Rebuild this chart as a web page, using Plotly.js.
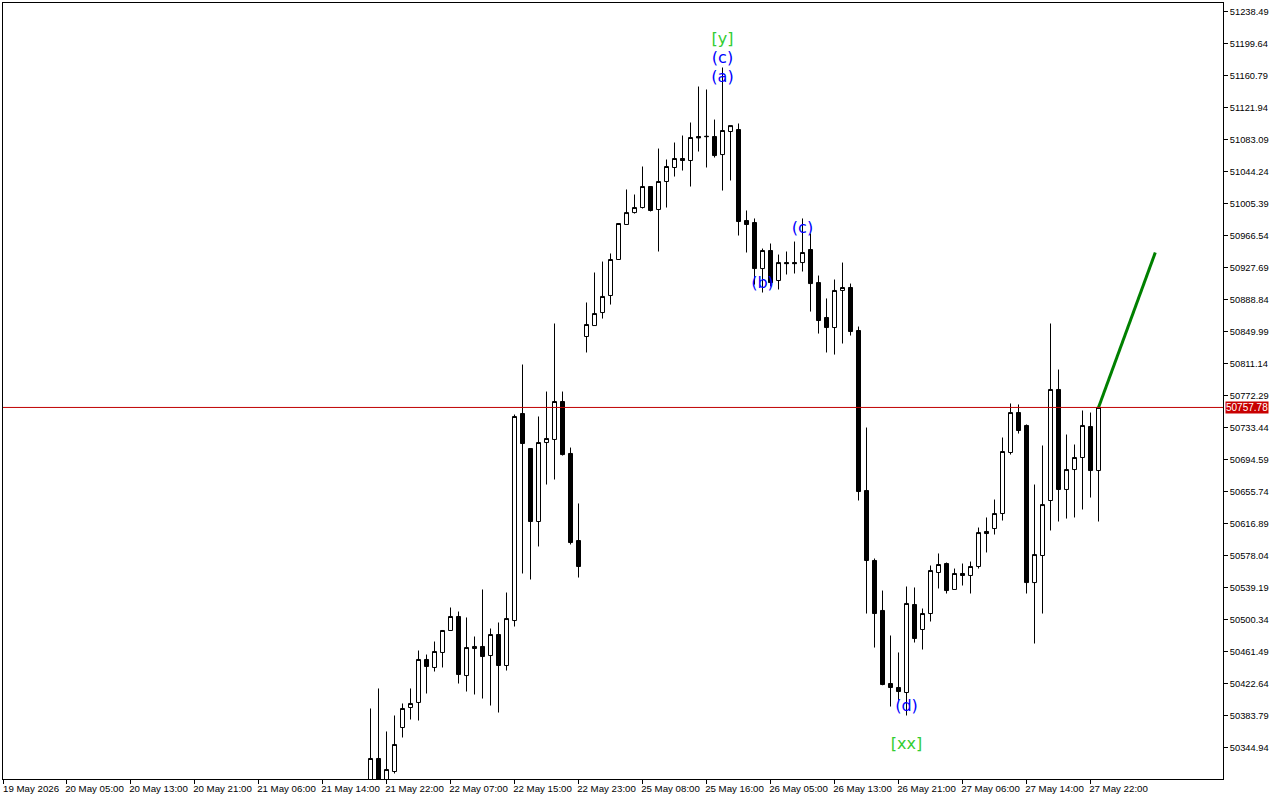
<!DOCTYPE html>
<html><head><meta charset="utf-8">
<style>html,body{margin:0;padding:0;background:#fff;overflow:hidden}#c{width:1280px;height:800px}</style>
<script src="https://cdn.plot.ly/plotly-3.0.1.min.js"></script>
</head><body><div id="c"></div>
<script>
const firstBar = 46;
const opens = [50280.6,50331.6,50292.7,50315.8,50369.2,50393.5,50399.6,50451.8,50442.1,50460.3,50487.0,50504.0,50432.3,50465.1,50467.6,50456.6,50482.1,50444.5,50499.1,50750.4,50707.9,50619.3,50715.2,50718.9,50765.0,50701.9,50596.2,50843.9,50857.2,50873.0,50893.7,50937.4,50979.9,50994.4,51000.5,51026.0,50998.1,51032.1,51049.1,51060.0,51057.6,51086.7,51086.5,51086.7,51064.8,51092.8,51095.2,50984.7,50982.3,50926.4,50948.3,50911.9,50933.7,50933.7,50933.7,50949.5,50909.4,50867.0,50854.8,50899.8,50903.4,50851.2,50656.9,50572.0,50511.3,50422.6,50417.8,50411.7,50518.5,50488.2,50507.6,50557.4,50568.3,50536.8,50556.2,50553.8,50564.7,50607.2,50610.8,50629.0,50703.1,50751.6,50735.9,50545.2,50578.0,50644.8,50779.6,50658.2,50682.4,50697.0,50734.6,50681.2];
const highs = [50392.3,50416.6,50364.4,50383.8,50398.4,50416.6,50462.7,50457.8,50473.6,50487.6,50514.9,50510.0,50502.8,50479.7,50536.8,50489.4,50496.7,50533.1,50749.2,50809.9,50707.9,50746.8,50777.1,50859.7,50777.1,50709.1,50641.2,50885.2,50921.6,50934.9,50944.7,50981.1,51022.4,51016.3,51050.3,51026.0,51072.1,51058.8,51079.4,51087.9,51103.7,51147.4,51143.8,51107.3,51170.5,51100.0,51102.5,50996.9,50987.2,50950.7,50956.8,50943.4,50947.1,50959.2,50987.2,50968.9,50917.9,50890.1,50913.1,50933.7,50908.2,50856.0,50733.4,50574.4,50535.5,50480.9,50460.3,50540.4,50539.2,50513.7,50565.9,50580.5,50569.5,50562.2,50568.3,50570.7,50612.0,50624.2,50646.0,50721.3,50762.6,50761.4,50737.1,50664.2,50711.6,50859.7,50803.8,50724.9,50712.8,50754.1,50751.6,50757.78];
const lows = [50262.4,50280.6,50280.6,50313.4,50357.1,50378.9,50377.7,50410.5,50437.2,50442.1,50487.0,50422.6,50412.9,50409.3,50404.4,50395.9,50387.4,50438.4,50491.8,50556.2,50548.9,50589.0,50664.2,50670.3,50699.4,50591.4,50551.3,50824.5,50857.2,50865.7,50882.7,50937.4,50979.9,50993.2,50999.3,50995.7,50947.1,51000.5,51038.1,51045.4,51026.0,51068.5,51049.1,51061.2,51021.1,51033.3,50966.5,50945.9,50907.0,50897.3,50904.6,50901.0,50919.2,50920.4,50922.8,50874.2,50847.5,50824.5,50822.0,50835.4,50845.1,50644.8,50507.6,50466.3,50420.5,50394.7,50402.0,50383.8,50472.4,50463.9,50497.9,50538.0,50531.9,50536.8,50541.6,50531.9,50562.2,50581.7,50603.5,50620.5,50700.6,50726.1,50531.9,50471.2,50507.6,50608.4,50619.3,50622.9,50624.2,50633.9,50648.4,50619.3];
const closes = [50331.6,50298.8,50318.2,50348.6,50392.3,50398.4,50451.8,50443.3,50461.5,50487.0,50504.0,50433.6,50466.3,50467.6,50455.4,50482.1,50444.5,50501.5,50746.8,50714.0,50619.3,50715.2,50720.1,50765.0,50700.6,50593.8,50564.7,50858.5,50871.8,50892.5,50937.4,50981.1,50994.4,51000.5,51026.0,50996.9,51032.1,51050.3,51060.0,51057.6,51085.5,51085.0,51086.9,51063.6,51094.0,51100.0,50983.5,50979.9,50926.4,50948.3,50909.4,50933.7,50932.4,50932.4,50945.9,50908.2,50863.3,50854.8,50899.8,50903.4,50850.0,50655.7,50572.0,50507.6,50421.4,50417.8,50412.9,50519.8,50477.3,50507.6,50559.8,50567.1,50535.5,50556.2,50553.8,50564.7,50605.9,50604.7,50629.0,50704.3,50751.6,50729.8,50545.2,50579.2,50639.9,50779.6,50658.2,50682.4,50697.0,50735.9,50681.2,50757.78];
const barIndex = opens.map((_, i) => firstBar + i);

const xTickBars = [0.07,8,16,24,32,40,48,56,64,72,80,88,96,104,112,120,128,136];
const xTickLabels = ["19 May 2026","20 May 05:00","20 May 13:00","20 May 21:00","21 May 06:00","21 May 14:00","21 May 22:00","22 May 07:00","22 May 15:00","22 May 23:00","25 May 08:00","25 May 16:00","26 May 05:00","26 May 13:00","26 May 21:00","27 May 06:00","27 May 14:00","27 May 22:00"];
const yTicks = [51238.49,51199.64,51160.79,51121.94,51083.09,51044.24,51005.39,50966.54,50927.69,50888.84,50849.99,50811.14,50772.29,50733.44,50694.59,50655.74,50616.89,50578.04,50539.19,50500.34,50461.49,50422.64,50383.79,50344.94];
const lastPrice = 50757.78;
const forecastBars = [137, 144.1];
const forecastPrices = [50757.78, 50945.9];
const waveBlueText = ["(c)","(a)","(b)","(c)","(d)"];
const waveBlueBars = [90,90,95,100,113];
const waveBluePrices = [51181.4,51158.3,50908.2,50975.0,50394.7];
const waveGreenText = ["[y]","[xx]"];
const waveGreenBars = [90,113];
const waveGreenPrices = [51203.3,50347.5];

const F = "Liberation Sans, Arial, sans-serif";
const W = "DejaVu Sans, sans-serif";
const traces = [
 {type:'candlestick',x:barIndex,open:opens,high:highs,low:lows,close:closes,
  increasing:{line:{color:'#000',width:1},fillcolor:'#fff'},
  decreasing:{line:{color:'#000',width:1},fillcolor:'#000'},
  whiskerwidth:0,hoverinfo:'skip',showlegend:false},
 {type:'scatter',mode:'lines',x:forecastBars,y:forecastPrices,line:{color:'#008000',width:3},hoverinfo:'skip',showlegend:false},
 {type:'scatter',mode:'text',x:waveBlueBars,y:waveBluePrices,text:waveBlueText,textposition:'middle center',textfont:{family:W,size:16,color:'#0000ff'},hoverinfo:'skip',showlegend:false},
 {type:'scatter',mode:'text',x:waveGreenBars,y:waveGreenPrices,text:waveGreenText,textposition:'middle center',textfont:{family:W,size:16,color:'#32cd32'},hoverinfo:'skip',showlegend:false}
];
const layout = {
 width:1280,height:800,paper_bgcolor:'#fff',plot_bgcolor:'#fff',
 margin:{l:3,r:57,t:3,b:21,pad:0},boxgap:0.5,boxgroupgap:0,showlegend:false,dragmode:false,
 xaxis:{range:[0.0625,152.5625],type:'linear',rangeslider:{visible:false},showgrid:false,zeroline:false,
  showline:true,mirror:true,linecolor:'#000',linewidth:1,ticks:'outside',ticklen:4,tickcolor:'#000',tickwidth:1,
  tickmode:'array',tickvals:xTickBars,ticktext:xTickLabels,tickangle:0,ticklabelshift:28,ticklabelstandoff:-4,
  tickfont:{family:F,size:9.7,color:'#000'}},
 yaxis:{side:'right',range:[50306.7,51248.8],showgrid:false,zeroline:false,
  showline:true,mirror:true,linecolor:'#000',linewidth:1,ticks:'outside',ticklen:4,tickcolor:'#000',tickwidth:1,
  tickmode:'array',tickvals:yTicks,ticktext:yTicks.map(v=>v.toFixed(2)),
  tickfont:{family:F,size:9.3,color:'#000'}},
 shapes:[{type:'line',xref:'paper',x0:0,x1:1,yref:'y',y0:lastPrice,y1:lastPrice,line:{color:'#c00000',width:1}}],
 annotations:[{xref:'paper',x:1,xanchor:'left',xshift:2,yref:'y',y:lastPrice,yanchor:'middle',text:lastPrice.toFixed(2),showarrow:false,
  bgcolor:'#c80000',borderpad:0,font:{family:F,size:10,color:'#fff'}}]
};
Plotly.newPlot('c',traces,layout,{displayModeBar:false,staticPlot:true});
</script></body></html>
